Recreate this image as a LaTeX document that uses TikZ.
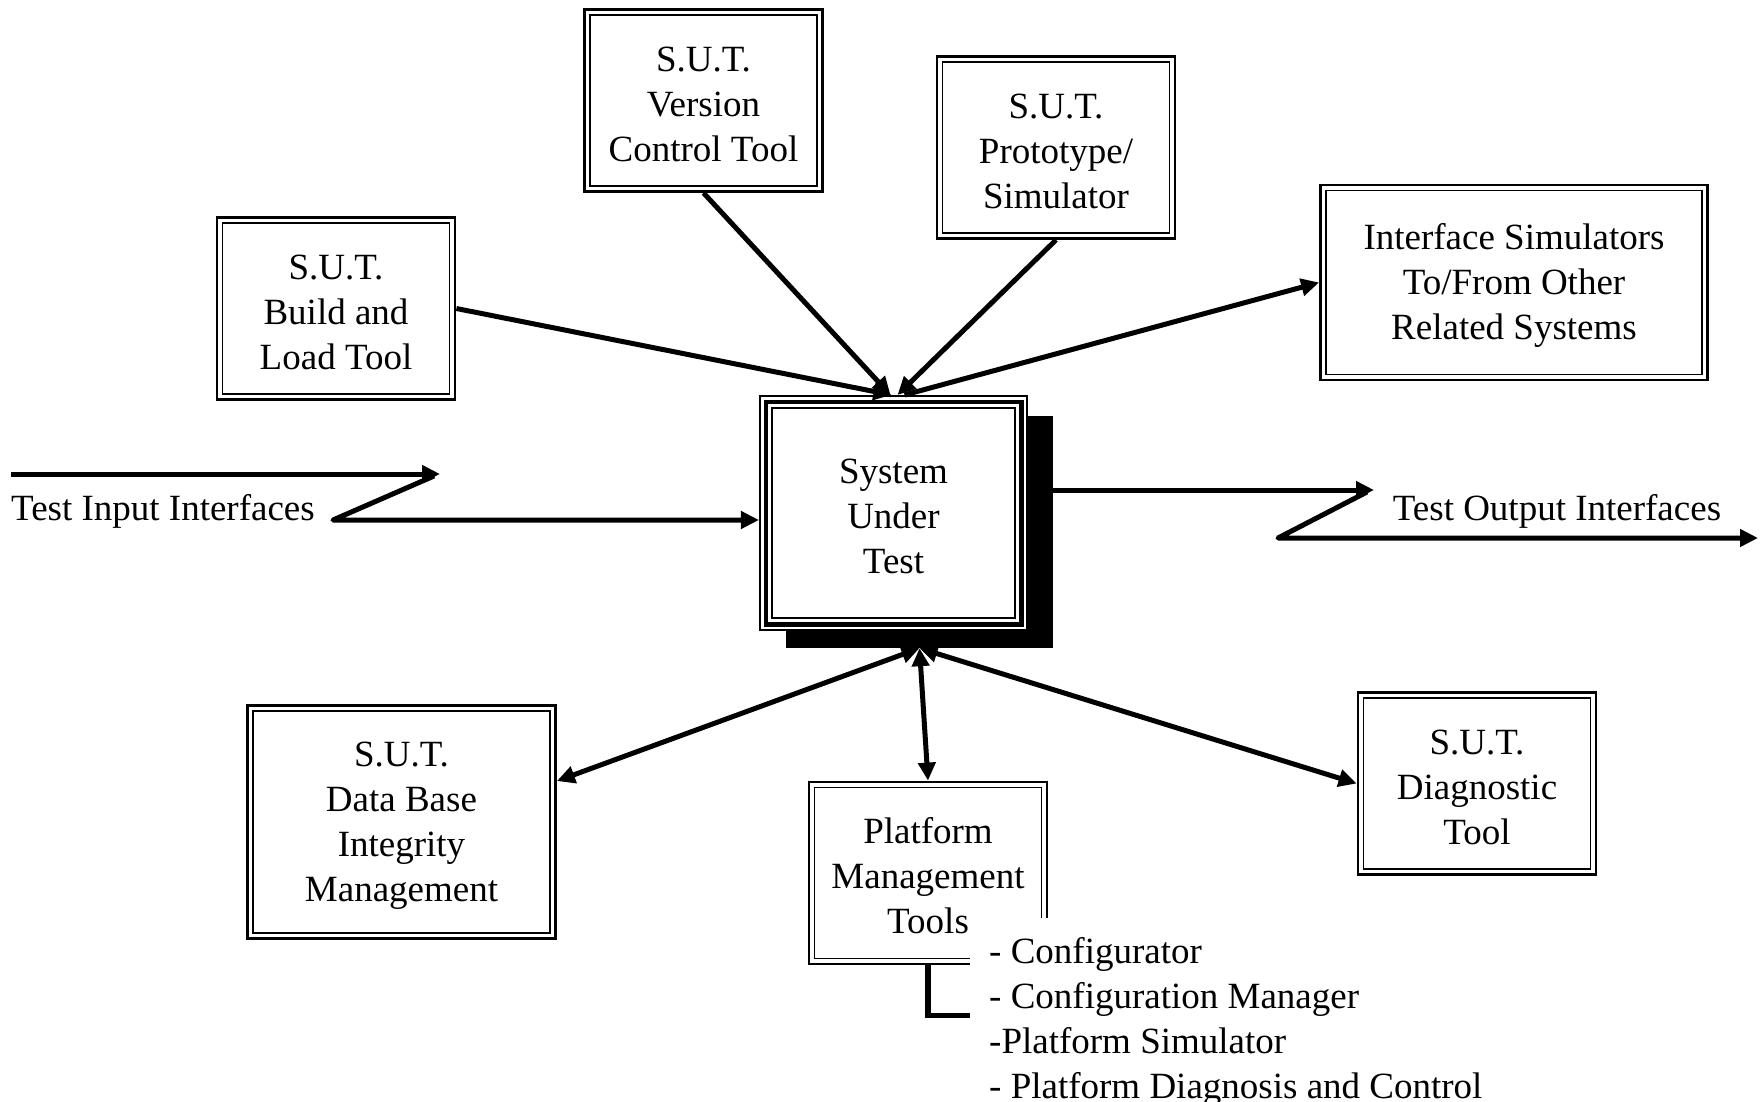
\documentclass[tikz,border=0pt]{standalone}
\usepackage{fontspec}
\setmainfont{Liberation Serif}
\usetikzlibrary{arrows.meta}
\newcommand\boxfont{\fontsize{37}{45}\selectfont}
% raises the first line box so the text sits a little lower in its frame
\newcommand\tstrut{\rule{0pt}{32pt}}

\tikzset{
  bigtri/.tip={Triangle[length=18pt,width=17pt]},
  conn/.style={line width=5pt, line join=round},
  box/.style={draw, line width=2.8pt, fill=white, align=center, font=\boxfont,
    inner sep=0pt, minimum width=238pt, minimum height=182pt,
    path picture={\draw[line width=1.8pt]
      ([shift={(5.5pt,-5.5pt)}]path picture bounding box.north west) rectangle
      ([shift={(-5.5pt,5.5pt)}]path picture bounding box.south east);}},
  sutbox/.style={draw, line width=1.6pt, fill=white, align=center, font=\boxfont,
    inner sep=0pt, minimum width=267.5pt, minimum height=234.5pt,
    path picture={
      \draw[line width=4.5pt]
        ([shift={(6pt,-6pt)}]path picture bounding box.north west) rectangle
        ([shift={(-6pt,6pt)}]path picture bounding box.south east);
      \draw[line width=2.2pt]
        ([shift={(12.5pt,-12.5pt)}]path picture bounding box.north west) rectangle
        ([shift={(-12.5pt,12.5pt)}]path picture bounding box.south east);}},
  shadowbox/.style={fill=black, inner sep=0pt, minimum width=267pt, minimum height=232pt},
  label/.style={inner sep=0pt, font=\boxfont},
}

\begin{document}
\begin{tikzpicture}[x=1pt,y=-1pt]
\useasboundingbox (0,0) rectangle (1761,1102);

% central system with its drop shadow
\node[shadowbox] (shadow) at (919.5,532) {};
\node[sutbox] (sut) at (893.5,513) {\tstrut System\\Under\\Test};

% surrounding tools
\node[box] (version) at (703.5,100.5) {\tstrut S.U.T.\\Version\\Control Tool};
\node[box] (proto) at (1056,147.5) {\tstrut S.U.T.\\Prototype/\\Simulator};
\node[box] (build) at (336,308.5) {\tstrut S.U.T.\\Build and\\Load Tool};
\node[box, minimum width=387pt, minimum height=195pt] (iface) at (1514,282.5)
  {\tstrut Interface Simulators\\To/From Other\\Related Systems};
\node[box, minimum width=308pt, minimum height=233pt] (db) at (401.5,822)
  {\tstrut S.U.T.\\Data Base\\Integrity\\Management};
\node[box] (diag) at (1477,783.5) {\tstrut S.U.T.\\Diagnostic\\Tool};
\node[box] (plat) at (928,873) {\tstrut Platform\\Management\\Tools};

% list of platform management tools
\node[fill=white, inner xsep=19pt, inner ysep=19pt, align=left, anchor=north west,
  font=\boxfont] (list) at (970,918)
  {- Configurator\\- Configuration Manager\\-Platform Simulator\\- Platform Diagnosis and Control};
\draw[line width=5.5pt] (plat.south) |- ([yshift=6pt]list.west);

% connectors into and out of the system under test
\draw[conn,-{bigtri}] (build.east) -- ([xshift=-2pt]sut.north);
\draw[conn,-{bigtri}] (version.south) -- ([xshift=-3pt]sut.north);
\draw[conn,-{bigtri}] (proto.south) -- ([xshift=4pt]sut.north);
\draw[conn,-{bigtri}] ([xshift=11pt]sut.north) -- (iface.west);

\draw[conn,{bigtri}-{bigtri}] (shadow.south) -- ([yshift=41pt]db.east);
\draw[conn,{bigtri}-{bigtri}] (shadow.south) -- (plat.north);
\draw[conn,{bigtri}-{bigtri}] (shadow.south) -- (diag.west);

% test input interfaces
\coordinate (inA) at (11,474);
\coordinate (inB) at (440,474);
\coordinate (inB2) at (434,476);
\coordinate (inC) at (333,520);
\draw[conn,-{bigtri}] (inA) -- (inB);
\draw[conn,-{bigtri}] (inB2) -- (inC) -- (sut.west |- inC);
\node[label, anchor=west] (inlabel) at (11,511.5) {Test Input Interfaces};

% test output interfaces
\coordinate (outB) at (1374,490);
\coordinate (outB2) at (1367,492);
\coordinate (outC) at (1278,538);
\coordinate (outD) at (1758,538);
\draw[conn,-{bigtri}] (shadow.east |- outB) -- (outB);
\draw[conn,-{bigtri}] (outB2) -- (outC) -- (outD);
\node[label] (outlabel) at (1557,511.5) {Test Output Interfaces};
\end{tikzpicture}
\end{document}
